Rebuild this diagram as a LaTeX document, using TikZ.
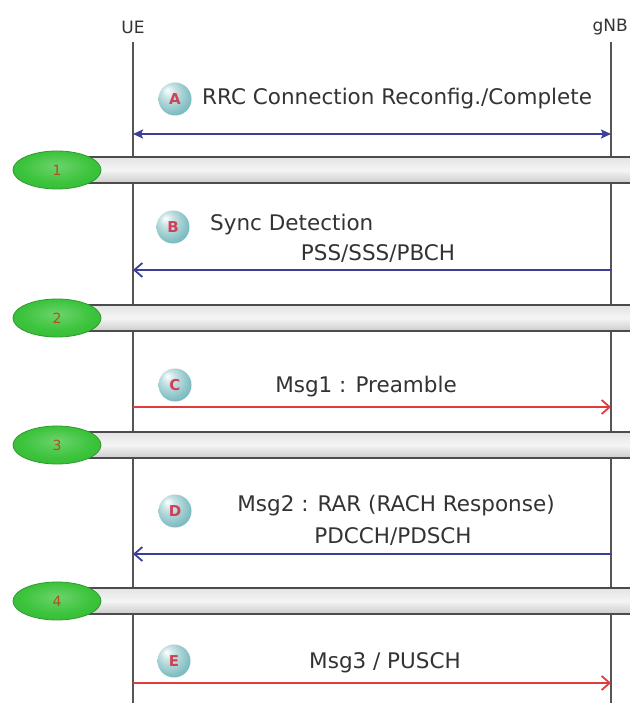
\documentclass[tikz,border=0pt]{standalone}
\usepackage{fontspec}
\setmainfont{DejaVu Sans}
\usetikzlibrary{shapes.geometric,arrows.meta,shadings}
\definecolor{txt}{HTML}{333333}
\definecolor{msgblue}{HTML}{3B3F98}
\definecolor{msgred}{HTML}{E23B3B}
\definecolor{lifeline}{HTML}{555555}
\definecolor{ballc}{HTML}{62AEB3}
\definecolor{letterc}{HTML}{D04058}
\definecolor{greenc}{HTML}{3CC43C}
\definecolor{greend}{HTML}{2E9A2E}
\definecolor{numc}{HTML}{B0501A}
\pgfdeclareradialshading{tealball}{\pgfpoint{-12bp}{14bp}}{%
  color(0bp)=(white); color(10bp)=(ballc!35!white); color(28bp)=(ballc!80!white);
  color(38bp)=(ballc); color(50bp)=(ballc!75!black)}
\pgfdeclareradialshading{greenball}{\pgfpoint{0bp}{6bp}}{%
  color(0bp)=(greenc!75!white); color(20bp)=(greenc); color(40bp)=(greenc!90!black); color(50bp)=(greend)}
\tikzset{
  lbl/.style={font=\fontsize{21.5}{25}\selectfont, text=txt, inner sep=0pt},
  head/.style={font=\fontsize{17}{20}\selectfont, text=txt, inner sep=0pt},
  ballnode/.style={circle, minimum size=33pt, inner sep=0pt, shading=tealball,
    font=\fontsize{15}{17}\selectfont\bfseries, text=letterc},
  phase/.style={ellipse, minimum width=88pt, minimum height=38pt, inner sep=0pt,
    shading=greenball, draw=greend, line width=0.8pt, font=\fontsize{14}{16}\selectfont, text=numc},
  bar/.style={top color=gray!22, bottom color=gray!40, middle color=gray!8},
  barline/.style={draw=gray!60!black, line width=1.6pt},
  lline/.style={draw=lifeline, line width=1.3pt},
  blue msg/.style={draw=msgblue, line width=1.8pt},
  red msg/.style={draw=msgred, line width=1.8pt},
  opentip/.style={-{Straight Barb[length=8pt,width=14pt,line width=1.8pt]}},
  bothfilled/.style={{Stealth[length=10pt,width=9pt,inset=2pt]}-{Stealth[length=10pt,width=9pt,inset=2pt]}},
}
\begin{document}
\begin{tikzpicture}[x=1pt,y=-1pt]
\useasboundingbox (0,0) rectangle (629,703);
\fill[white] (0,0) rectangle (629,703);
% headers
\node[head] (ue) at (133,27) {UE};
\node[head, anchor=east] (gnb) at (628,27) {gNB};
\coordinate (ueTop) at (133,42);
\coordinate (ueBot) at (133,703);
\coordinate (gnbTop) at (611,42);
\coordinate (gnbBot) at (611,703);
\draw[lline] (ueTop) -- (ueBot);
\draw[lline] (gnbTop) -- (gnbBot);
% A
\node[ballnode] (ballA) at (175,99) {A};
\node[lbl, anchor=west] (txtA) at (202,99) {RRC Connection Reconfig./Complete};
\coordinate (aL) at (133,134);
\coordinate (aR) at (611,134);
\draw[blue msg, bothfilled] (aL) -- (aR);
% bars
\foreach \y/\n in {170/1,318/2,445/3,601/4}{
  \shade[bar] (75,\y-13) rectangle (640,\y+13);
  \draw[barline] (75,\y-13) -- (640,\y-13) (75,\y+13) -- (640,\y+13);
  \node[phase] (ph\n) at (57,\y) {\n};
}
% B
\node[ballnode] (ballB) at (173,227) {B};
\node[lbl, anchor=west] (txtB1) at (210,225) {Sync Detection};
\node[lbl] (txtB2) at (378,254) {PSS/SSS/PBCH};
\coordinate (bR) at (611,270);
\coordinate (bL) at (133,270);
\draw[blue msg, opentip] (bR) -- (bL);
% C
\node[ballnode] (ballC) at (175,385) {C};
\node[lbl] (txtC) at (366,387) {Msg1 : Preamble};
\coordinate (cL) at (133,407);
\coordinate (cR) at (611,407);
\draw[red msg, opentip] (cL) -- (cR);
% D
\node[ballnode] (ballD) at (175,511) {D};
\node[lbl] (txtD1) at (396,506) {Msg2 : RAR (RACH Response)};
\node[lbl] (txtD2) at (393,537) {PDCCH/PDSCH};
\coordinate (dR) at (611,554);
\coordinate (dL) at (133,554);
\draw[blue msg, opentip] (dR) -- (dL);
% E
\node[ballnode] (ballE) at (174,661) {E};
\node[lbl] (txtE) at (385,663) {Msg3 / PUSCH};
\coordinate (eL) at (133,683);
\coordinate (eR) at (611,683);
\draw[red msg, opentip] (eL) -- (eR);
\end{tikzpicture}
\end{document}
